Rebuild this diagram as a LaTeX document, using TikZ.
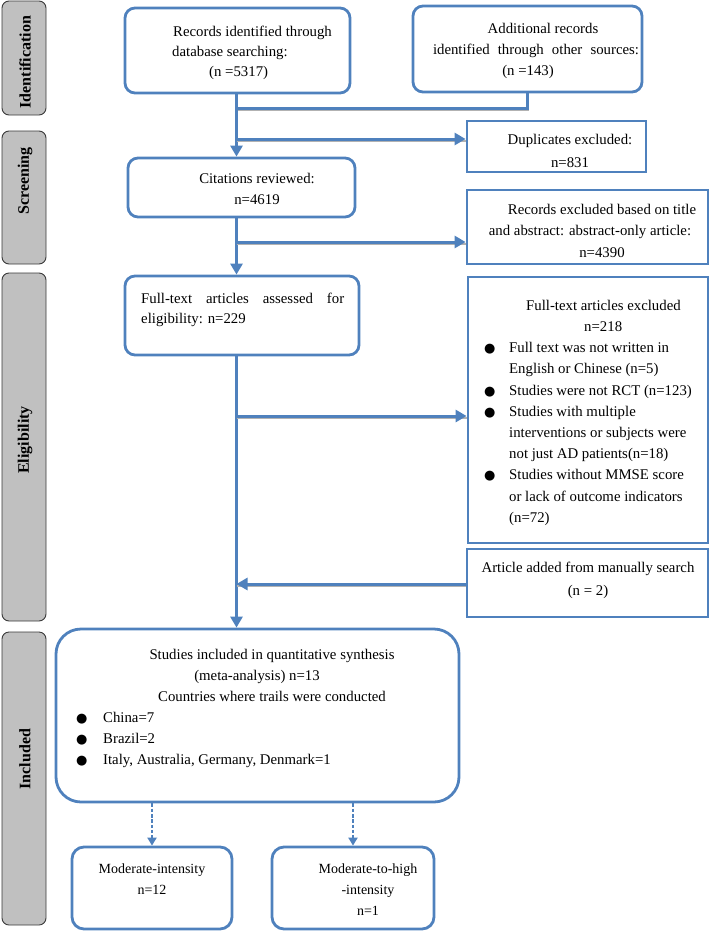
\documentclass[tikz,border=0pt]{standalone}
\usepackage{fontspec}
\setmainfont{Liberation Serif}
\newfontfamily\dejavu{DejaVu Sans}
\usetikzlibrary{arrows.meta}
\definecolor{pblue}{HTML}{4F81BD}
\definecolor{sgray}{HTML}{C0C0C0}
\definecolor{sedge}{HTML}{3A3A3A}
\newcommand\bulA{\makebox[25pt][l]{\dejavu\fontsize{13}{13}\selectfont ●}}
\newcommand\bulB{\makebox[27pt][l]{\dejavu\fontsize{13}{13}\selectfont ●}}
\tikzset{
  rbox/.style={draw=pblue, line width=2.8pt, rounded corners=10pt, inner sep=0pt},
  sbox/.style={draw=pblue, line width=2.8pt, inner sep=0pt},
  side/.style={draw=sedge, fill=sgray, line width=0.9pt, rounded corners=7pt, inner sep=0pt},
  sidetxt/.style={rotate=90, font=\fontsize{16}{16}\selectfont\bfseries, inner sep=0pt},
  txt/.style={inner sep=0pt, font=\fontsize{14.8}{21}\selectfont},
  conn/.style={draw=pblue, line width=3pt},
  arr/.style={conn, -{Triangle[width=12pt,length=11pt]}},
  shad/.style={preaction={draw=black!30, line width=2pt, arrows=-, transform canvas={yshift=-2.2pt}}},
  darr/.style={draw=pblue, line width=2.8pt, dash pattern=on 3.5pt off 1.8pt, -{Triangle[width=9pt,length=8pt]}},
}
\begin{document}
\begin{tikzpicture}[x=1pt,y=-1pt]
\useasboundingbox (0,0) rectangle (710,932);
% side bars
\node[side, minimum width=44pt, minimum height=114pt] (sId) at (24,58) {};
\node[side, minimum width=44pt, minimum height=133pt] (sSc) at (24,197.5) {};
\node[side, minimum width=44pt, minimum height=348pt] (sEl) at (24,447) {};
\node[side, minimum width=44pt, minimum height=293pt] (sIn) at (24,778.5) {};
\node[sidetxt] (lId) at (25,62) {Identification};
\node[sidetxt] (lSc) at (25,181) {Screening};
\node[sidetxt] (lEl) at (25,440) {Eligibility};
\node[sidetxt] (lIn) at (25,759) {Included};
% boxes
\node[rbox, minimum width=225pt, minimum height=85pt] (b1) at (237.5,50.5) {};
\node[rbox, minimum width=229pt, minimum height=86pt] (b2) at (527.5,49) {};
\node[rbox, minimum width=227pt, minimum height=59pt] (cit) at (241.5,187.5) {};
\node[rbox, minimum width=234pt, minimum height=79pt] (ft) at (242,315.5) {};
\node[rbox, rounded corners=25pt, minimum width=403pt, minimum height=173pt] (st) at (257.5,715.5) {};
\node[rbox, rounded corners=12pt, minimum width=160pt, minimum height=82pt] (mod) at (152,888) {};
\node[rbox, rounded corners=12pt, minimum width=162pt, minimum height=82pt] (modh) at (353,888) {};
\node[sbox, minimum width=179pt, minimum height=51pt] (dup) at (556.5,146.5) {};
\node[sbox, minimum width=241pt, minimum height=74pt] (rex) at (587.5,227) {};
\node[sbox, minimum width=240pt, minimum height=266pt] (fex) at (588,410) {};
\node[sbox, minimum width=241pt, minimum height=68pt] (add) at (587.5,583) {};
% texts
\node[txt, font=\fontsize{14.8}{20}\selectfont, align=left, anchor=north west] (tb1) at (172,22)
  {\strut\hspace*{1pt}Records identified through\\database searching:\\\hspace*{37pt}(n =5317)};
\node[txt, align=center, anchor=north] (tb2) at (536,18.6)
  {\strut\hspace*{14pt}Additional records\\\makebox[206pt][s]{identified through other sources:}\\(n =143)\hspace*{16pt}\mbox{}};
\node[txt, align=center, anchor=north] (tcit) at (257,168.3) {\strut Citations reviewed:\\n=4619};
\node[txt, font=\fontsize{14.8}{20}\selectfont, align=left, anchor=north west] (tft) at (141,289)
  {\strut\makebox[203pt][s]{Full-text articles assessed for}\\eligibility: n=229};
\node[txt, font=\fontsize{14.8}{23}\selectfont, align=center, anchor=north] (tdup) at (570,127.9)
  {\strut Duplicates excluded:\\n=831};
\node[txt, font=\fontsize{14.8}{21.5}\selectfont, align=center, anchor=north] (trex) at (598,199)
  {\strut\hspace*{8pt}Records excluded based on title\\and abstract: abstract-only article:\hspace*{16pt}\mbox{}\\\hspace*{8pt}n=4390};
\node[txt, font=\fontsize{14.8}{21.2}\selectfont, align=left, anchor=north west] (tfex) at (484,295.2)
  {\strut\hspace*{42pt}Full-text articles excluded\\
   \hspace*{100pt}n=218\\
   \bulA Full text was not written in\\
   \hspace*{25pt}English or Chinese (n=5)\\
   \bulA Studies were not RCT (n=123)\\
   \bulA Studies with multiple\\
   \hspace*{25pt}interventions or subjects were\\
   \hspace*{25pt}not just AD patients(n=18)\\
   \bulA Studies without MMSE score\\
   \hspace*{25pt}or lack of outcome indicators\\
   \hspace*{25pt}(n=72)};
\node[txt, font=\fontsize{14.8}{23}\selectfont, align=center, anchor=north] (tadd) at (588,555.9)
  {\strut Article added from manually search\\(n = 2)};
\node[txt, align=center, anchor=north] (tst1) at (272,644.3)
  {\strut Studies included in quantitative synthesis\\(meta-analysis) n=13\hspace*{30pt}\mbox{}\\Countries where trails were conducted};
\node[txt, align=left, anchor=north west] (tst2) at (76,707.3)
  {\strut\bulB China=7\\\bulB Brazil=2\\\bulB Italy, Australia, Germany, Denmark=1};
\node[txt, font=\fontsize{14}{21}\selectfont, align=center, anchor=north] (tmod) at (152,858.3) {\strut Moderate-intensity\\n=12};
\node[txt, font=\fontsize{14}{21}\selectfont, align=center, anchor=north] (tmodh) at (368,858.3) {\strut Moderate-to-high\\-intensity\\n=1};
% connectors
\coordinate (sp) at (236.5,0);
\coordinate (jm) at (236.5,108);
\coordinate (j1) at (236.5,139);
\coordinate (j2) at (236.5,242);
\coordinate (j3) at (236.5,416);
\coordinate (j4) at (236.5,584);
\draw[conn, shad] (b2.south) |- (jm);
\draw[arr] (b1.south -| sp) -- (cit.north -| sp);
\draw[arr, shad] (j1) -- (j1 -| dup.west);
\draw[arr] (cit.south -| sp) -- (ft.north -| sp);
\draw[arr, shad] (j2) -- (j2 -| rex.west);
\draw[arr] (ft.south -| sp) -- (st.north -| sp);
\draw[arr, shad] (j3) -- (j3 -| fex.west);
\draw[arr, shad] (j4 -| add.west) -- (j4);
\draw[darr] (mod.north |- st.south) -- (mod.north);
\draw[darr] (modh.north |- st.south) -- (modh.north);
\end{tikzpicture}
\end{document}
